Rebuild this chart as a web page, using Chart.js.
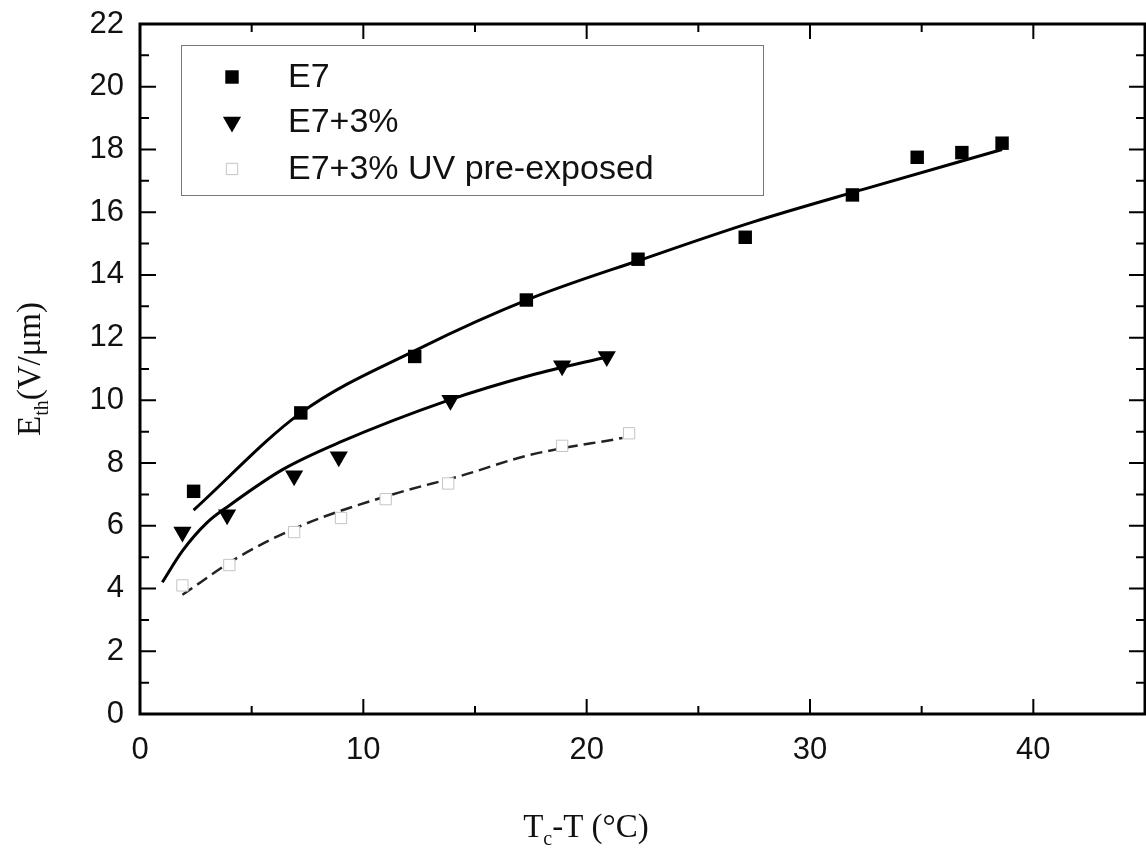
<!DOCTYPE html>
<html>
<head>
<meta charset="utf-8">
<script src="https://cdn.jsdelivr.net/npm/chart.js@4"></script>
<style>
  html, body { margin: 0; padding: 0; background: #fff; overflow: hidden; }
  canvas { display: block; }
</style>
</head>
<body>
<canvas id="chart" width="1146" height="856"></canvas>
<script>
// measured points
var e7X = [2.4, 7.2, 12.3, 17.3, 22.3, 27.1, 31.9, 34.8, 36.8, 38.6];
var e7Y = [7.1, 9.6, 11.4, 13.2, 14.5, 15.2, 16.55, 17.75, 17.9, 18.2];
var triX = [1.9, 3.9, 6.9, 8.9, 13.9, 18.9, 20.9];
var triY = [5.8, 6.35, 7.6, 8.2, 10.0, 11.1, 11.4];
var uvX = [1.9, 4.0, 6.9, 9.0, 11.0, 13.8, 18.9, 21.9];
var uvY = [4.1, 4.75, 5.8, 6.25, 6.85, 7.35, 8.55, 8.95];

// fitted curves
var e7FitX = [2.4, 7.2, 12.5, 17.5, 22.5, 27.5, 32.5, 38.6];
var e7FitY = [6.5, 9.6, 11.65, 13.25, 14.5, 15.7, 16.75, 18.0];
var triFitX = [1.0, 1.9, 3.0, 4.0, 6.4, 8.9, 13.8, 17.5, 21.0];
var triFitY = [4.2, 5.2, 6.1, 6.65, 7.8, 8.65, 10.0, 10.8, 11.4];
var uvFitX = [1.9, 4.4, 7.2, 11.3, 14.4, 17.4, 21.6];
var uvFitY = [3.8, 5.0, 6.0, 7.0, 7.6, 8.25, 8.8];

var seriesNames = ["E7", "E7+3%", "E7+3% UV pre-exposed"];
var xTicks = [0, 10, 20, 30, 40];

function pts(xs, ys) {
  return xs.map(function (x, i) { return { x: x, y: ys[i] }; });
}

var frame = {
  id: 'frame',
  afterDatasetsDraw: function (chart) {
    var ctx = chart.ctx, a = chart.chartArea;
    var xs = chart.scales.x, ys = chart.scales.y;
    ctx.save();
    ctx.strokeStyle = '#000';
    ctx.lineWidth = 2;
    // inward ticks on all four sides
    for (var v = 0; v <= 45; v += 5) {
      var px = xs.getPixelForValue(v);
      var len = v % 10 === 0 ? 15 : 8;
      ctx.beginPath();
      ctx.moveTo(px, a.bottom); ctx.lineTo(px, a.bottom - len);
      ctx.moveTo(px, a.top); ctx.lineTo(px, a.top + len);
      ctx.stroke();
    }
    for (var w = 0; w <= 22; w += 1) {
      var py = ys.getPixelForValue(w);
      var l2 = w % 2 === 0 ? 16 : 9;
      ctx.beginPath();
      ctx.moveTo(a.left, py); ctx.lineTo(a.left + l2, py);
      ctx.moveTo(a.right, py); ctx.lineTo(a.right - l2, py);
      ctx.stroke();
    }
    ctx.lineWidth = 3;
    ctx.strokeRect(a.left, a.top, a.right - a.left, a.bottom - a.top);

    // legend box
    ctx.lineWidth = 1;
    ctx.strokeStyle = '#777';
    ctx.strokeRect(181.5, 45.5, 582, 150);
    var rows = [77, 122, 169];
    var sets = chart.data.datasets.filter(function (d) { return d.label; });
    ctx.font = '34px "Liberation Sans", Arial, sans-serif';
    ctx.textBaseline = 'middle';
    sets.forEach(function (d, i) {
      ctx.fillStyle = d.backgroundColor;
      ctx.strokeStyle = d.borderColor;
      ctx.lineWidth = d.borderWidth || 0;
      Chart.helpers.drawPoint(ctx, {
        pointStyle: d.pointStyle, radius: d.pointRadius,
        rotation: d.pointRotation || 0, borderWidth: d.borderWidth || 0
      }, 232, rows[i]);
      ctx.fillStyle = '#111';
      ctx.fillText(d.label, 288, rows[i] + 1);
    });

    // axis titles with subscripts
    ctx.fillStyle = '#111';
    ctx.textBaseline = 'alphabetic';
    var big = '33px "Liberation Serif", "DejaVu Serif", serif';
    var small = '20px "Liberation Serif", "DejaVu Serif", serif';
    // x title
    ctx.font = big;
    var wT = ctx.measureText('T').width;
    var rest = '-T (\u00B0C)';
    var wR = ctx.measureText(rest).width;
    ctx.font = small;
    var wc = ctx.measureText('c').width;
    var x0 = 586 - (wT + wc + wR) / 2, base = 837;
    ctx.font = big; ctx.fillText('T', x0, base);
    ctx.font = small; ctx.fillText('c', x0 + wT, base + 8);
    ctx.font = big; ctx.fillText(rest, x0 + wT + wc, base);
    // y title
    ctx.translate(40, 369);
    ctx.rotate(-Math.PI / 2);
    ctx.font = big;
    var wE = ctx.measureText('E').width;
    var yr = '(V/\u03BCm)';
    var wy = ctx.measureText(yr).width;
    ctx.font = small;
    var wth = ctx.measureText('th').width;
    var y0 = -(wE + wth + wy) / 2;
    ctx.font = big; ctx.fillText('E', y0, 0);
    ctx.font = small; ctx.fillText('th', y0 + wE, 8);
    ctx.font = big; ctx.fillText(yr, y0 + wE + wth, 0);
    ctx.restore();
  }
};

new Chart(document.getElementById('chart'), {
  type: 'scatter',
  data: {
    datasets: [
      {
        label: seriesNames[0], data: pts(e7X, e7Y),
        pointStyle: 'rect', pointRadius: 9.5, backgroundColor: '#000',
        borderColor: '#000', borderWidth: 0, showLine: false, order: 1
      },
      {
        label: seriesNames[1], data: pts(triX, triY),
        pointStyle: 'triangle', pointRadius: 10.5, pointRotation: 180,
        backgroundColor: '#000', borderColor: '#000', borderWidth: 0,
        showLine: false, order: 1
      },
      {
        label: seriesNames[2], data: pts(uvX, uvY),
        pointStyle: 'rect', pointRadius: 8, backgroundColor: '#fff',
        borderColor: '#c4c4c4', borderWidth: 1, showLine: false, order: 2
      },
      {
        data: pts(e7FitX, e7FitY), showLine: true, pointRadius: 0,
        borderColor: '#000', borderWidth: 3, cubicInterpolationMode: 'monotone', order: 3
      },
      {
        data: pts(triFitX, triFitY), showLine: true, pointRadius: 0,
        borderColor: '#000', borderWidth: 3, cubicInterpolationMode: 'monotone', order: 3
      },
      {
        data: pts(uvFitX, uvFitY), showLine: true, pointRadius: 0,
        borderColor: '#222', borderWidth: 2.5, borderDash: [12, 6],
        cubicInterpolationMode: 'monotone', order: 3
      }
    ]
  },
  plugins: [frame],
  options: {
    responsive: false,
    animation: false,
    layout: { autoPadding: false, padding: { top: 24, right: 1, left: 0, bottom: 0 } },
    plugins: { legend: { display: false }, tooltip: { enabled: false } },
    scales: {
      x: {
        type: 'linear', min: 0, max: 45,
        afterFit: function (s) {
          s.height = 142; s.paddingLeft = 0; s.paddingRight = 0;
        },
        grid: { display: false, drawTicks: false },
        border: { display: false },
        ticks: {
          stepSize: 10, padding: 18, color: '#111', includeBounds: false,
          font: { family: '"Liberation Sans", Arial, sans-serif', size: 31 },
          callback: function (v) { return xTicks.indexOf(v) >= 0 ? v : ''; }
        }
      },
      y: {
        type: 'linear', min: 0, max: 22,
        afterFit: function (s) {
          s.width = 140; s.paddingTop = 0; s.paddingBottom = 0;
        },
        grid: { display: false, drawTicks: false },
        border: { display: false },
        ticks: {
          stepSize: 2, padding: 16, color: '#111',
          font: { family: '"Liberation Sans", Arial, sans-serif', size: 31 }
        }
      }
    }
  }
});
</script>
</body>
</html>
